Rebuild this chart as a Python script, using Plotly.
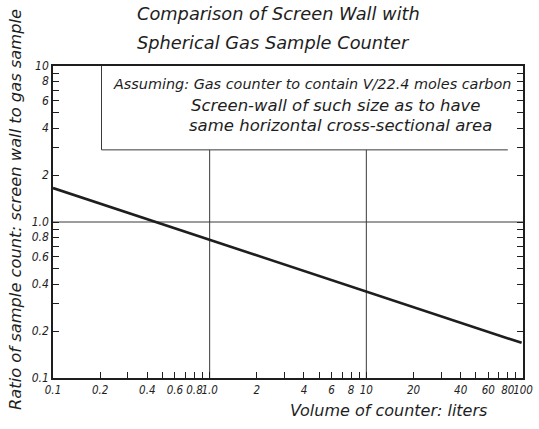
import plotly.graph_objects as go

# ---- data ----
volume_l = [0.1, 1.0, 10.0, 98.0]
ratio = [1.65, 0.77, 0.36, 0.168]

x_tick_vals = [0.1, 0.2, 0.3, 0.4, 0.5, 0.6, 0.7, 0.8, 0.9, 1,
               2, 3, 4, 5, 6, 7, 8, 9, 10,
               20, 30, 40, 50, 60, 70, 80, 90, 100]
x_tick_text = ["0.1", "0.2", "", "0.4", "", "0.6", "", "0.8", "", "1.0",
               "2", "", "4", "", "6", "", "8", "", "10",
               "20", "", "40", "", "60", "", "80", "", "100"]
y_tick_vals = [0.1, 0.2, 0.3, 0.4, 0.5, 0.6, 0.7, 0.8, 0.9, 1,
               2, 3, 4, 5, 6, 7, 8, 9, 10]
y_tick_text = ["0.1", "0.2", "", "0.4", "", "0.6", "", "0.8", "", "1.0",
               "2", "", "4", "", "6", "", "8", "", "10"]

# reference lines (grid at 1 and 10, y=1; note box)
grid_x = [1.0, 10.0]
grid_y_low, grid_y_top = 0.1, 2.9
box_left, box_right, box_bottom, box_top = 0.204, 80.0, 2.9, 10.0

title_lines = ["Comparison of Screen Wall with", "Spherical Gas Sample Counter"]
note_lines = ["Assuming: Gas counter to contain V/22.4 moles carbon",
              "Screen-wall of such size as to have",
              "same horizontal cross-sectional area"]
x_title = "Volume of counter: liters"
y_title = "Ratio of sample count: screen wall to gas sample"

INK = "#1e1e1e"
THIN = "#3a3a3a"
FONT = "DejaVu Sans"
TICKFONT = "DejaVu Sans Condensed, DejaVu Sans"

fig = go.Figure()

# horizontal line at y = 1
fig.add_trace(go.Scatter(x=[0.1, 100], y=[1, 1], mode="lines",
                         line=dict(color=THIN, width=1), hoverinfo="skip", showlegend=False))
# vertical lines at x = 1 and 10, up to the note box
for gx in grid_x:
    fig.add_trace(go.Scatter(x=[gx, gx], y=[grid_y_low, grid_y_top], mode="lines",
                             line=dict(color=THIN, width=1), hoverinfo="skip", showlegend=False))
# note box (left and bottom edges)
fig.add_trace(go.Scatter(x=[box_left, box_left, box_right], y=[box_top, box_bottom, box_bottom],
                         mode="lines", line=dict(color=THIN, width=1),
                         hoverinfo="skip", showlegend=False))

# main curve
fig.add_trace(go.Scatter(x=volume_l, y=ratio, mode="lines",
                         line=dict(color=INK, width=2.6), showlegend=False))

W, H = 539, 429
L, R, T, B = 53, 16, 66, 51
pw, ph = W - L - R, H - T - B

def px(xp):
    return (xp - L) / pw

def py(yp):
    return 1 - (yp - T) / ph

ann = []
fstyle = dict(family=FONT, color=INK, style="italic")
def add(text, x, y, size, xanchor="left", angle=0):
    ann.append(dict(text=text, x=px(x), y=py(y), xref="paper", yref="paper", textangle=angle,
                    xanchor=xanchor, yanchor="middle", showarrow=False,
                    font=dict(size=size, **fstyle)))

add(title_lines[0], 135, 14, 17.8)
add(title_lines[1], 135, 42, 17.8)
add(note_lines[0], 111, 84, 14.4)
add(note_lines[1], 189, 105, 16.5)
add(note_lines[2], 187, 125, 16.5)
add(x_title, 388, 410, 16, xanchor="center")
add(y_title, 15, 210, 16.3, xanchor="center", angle=-90)

axis_common = dict(type="log", showgrid=False, zeroline=False, showline=True,
                   linecolor=INK, linewidth=1.5, ticks="inside", ticklen=6, tickwidth=1.2,
                   tickcolor=INK, tickmode="array", tickangle=0, automargin=False)

fig.update_layout(
    width=W, height=H,
    margin=dict(l=L, r=R, t=T, b=B, autoexpand=False),
    paper_bgcolor="white", plot_bgcolor="white",
    xaxis=dict(range=[-1, 2], tickvals=x_tick_vals, ticktext=x_tick_text, mirror=True,
               tickfont=dict(family=TICKFONT, size=11.5, color=INK, style="italic"), **axis_common),
    yaxis=dict(range=[-1, 1], tickvals=y_tick_vals, ticktext=y_tick_text, mirror="ticks",
               tickfont=dict(family=TICKFONT, size=12, color=INK, style="italic"), **axis_common),
    annotations=ann,
    showlegend=False,
)

fig.write_html("out.html")
